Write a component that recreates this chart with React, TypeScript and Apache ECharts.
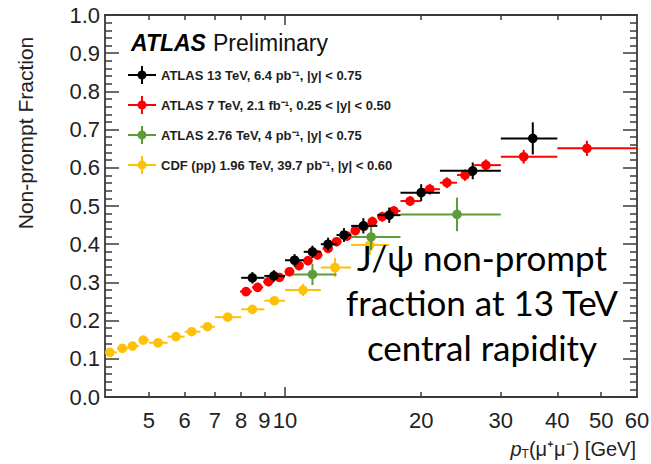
import React, { useEffect, useRef } from "react";
import * as echarts from "echarts";

// ---- Data ----
// CDF (pp̄) 1.96 TeV
const cdfPt = [4.1, 4.37, 4.6, 4.86, 5.24, 5.74, 6.22, 6.74, 7.47, 8.47, 9.47, 10.96, 12.9, 15.4];
const cdfLo = [4.0, 4.25, 4.5, 4.75, 5.0, 5.5, 6.0, 6.5, 7.0, 8.0, 9.0, 10, 12, 14];
const cdfHi = [4.25, 4.5, 4.75, 5.0, 5.5, 6.0, 6.5, 7.0, 8.0, 9.0, 10, 12, 14, 17];
const cdfVal = [0.117, 0.1275, 0.1335, 0.149, 0.142, 0.158, 0.171, 0.184, 0.209, 0.2295, 0.252, 0.28, 0.339, 0.398];
const cdfErr = [0.005, 0.005, 0.005, 0.006, 0.006, 0.006, 0.006, 0.007, 0.007, 0.008, 0.01, 0.016, 0.025, 0.026];

// ATLAS 2.76 TeV
const a276Pt = [11.5, 15.5, 24];
const a276Lo = [10, 14, 18];
const a276Hi = [13, 18, 30];
const a276Val = [0.321, 0.419, 0.478];
const a276Err = [0.028, 0.035, 0.044];

// ATLAS 7 TeV
const a7Pt = [8.2, 8.7, 9.19, 9.72, 10.23, 10.74, 11.24, 11.8, 12.45, 13.0, 13.7, 14.3, 14.95, 15.6, 16.4, 17.4, 18.9, 20.9, 22.8, 25.0, 27.8, 33.7, 46.5];
const a7Edges = [7.95, 8.45, 8.95, 9.45, 9.98, 10.48, 10.98, 11.5, 12.1, 12.75, 13.35, 14.0, 14.6, 15.3, 16.0, 16.9, 18.0, 20.0, 22.0, 24.0, 26.2, 30, 40, 60];
const a7Val = [0.276, 0.287, 0.302, 0.313, 0.328, 0.344, 0.357, 0.372, 0.389, 0.4066, 0.4215, 0.4354, 0.447, 0.459, 0.472, 0.487, 0.513, 0.544, 0.561, 0.581, 0.607, 0.629, 0.651];
const a7Err = [0.012, 0.012, 0.012, 0.012, 0.012, 0.012, 0.012, 0.012, 0.012, 0.012, 0.012, 0.012, 0.012, 0.013, 0.013, 0.013, 0.013, 0.014, 0.014, 0.015, 0.015, 0.018, 0.02];

// ATLAS 13 TeV
const a13Pt = [8.47, 9.45, 10.5, 11.5, 12.45, 13.5, 14.9, 17.0, 20.0, 26.0, 35.3];
const a13Lo = [8, 9, 10, 11, 12, 13, 14, 16, 18, 22, 30];
const a13Hi = [9, 10, 11, 12, 13, 14, 16, 18, 22, 30, 40];
const a13Val = [0.312, 0.317, 0.358, 0.38, 0.4, 0.424, 0.448, 0.476, 0.535, 0.592, 0.677];
const a13Err = [0.015, 0.015, 0.016, 0.016, 0.017, 0.018, 0.02, 0.02, 0.022, 0.022, 0.042];

// Axis ticks / labels
const xLabelValues = [5, 6, 7, 8, 9, 10, 20, 30, 40, 50, 60];
const xMinorTicks = [5, 6, 7, 8, 9, 20, 30, 40, 50];
const xMajorTicks = [10];
const X_MIN = 4;
const X_MAX = 60;

const names = {
  a13: "ATLAS 13 TeV, 6.4 pb\u207B\u00B9, |y| < 0.75",
  a7: "ATLAS 7 TeV, 2.1 fb\u207B\u00B9, 0.25 < |y| < 0.50",
  a276: "ATLAS 2.76 TeV, 4 pb\u207B\u00B9, |y| < 0.75",
  cdf: "CDF (pp) 1.96 TeV, 39.7 pb\u207B\u00B9, |y| < 0.60",
};

const colors = {
  a13: "#000000",
  a7: "#ff0000",
  a276: "#5e9c3a",
  cdf: "#ffc107",
};

const FONT = "'Liberation Sans', Arial, Helvetica, sans-serif";
const ICON =
  "path://M0,8 L28,8 L28,10 L0,10 Z M13,0 L15,0 L15,18 L13,18 Z M14,4.5 A4.5,4.5 0 1,1 14,13.5 A4.5,4.5 0 1,1 14,4.5 Z";

function rows(pt: number[], val: number[], lo: number[], hi: number[], err: number[]) {
  return pt.map((p, i) => [p, val[i], lo[i], hi[i], err[i]]);
}

function makeRender(color: string) {
  return (_params: any, api: any) => {
    const x = api.value(0);
    const y = api.value(1);
    const lo = api.value(2);
    const hi = api.value(3);
    const e = api.value(4);
    const p = api.coord([x, y]);
    const l = api.coord([lo, y]);
    const r = api.coord([hi, y]);
    const t = api.coord([x, y + e]);
    const b = api.coord([x, y - e]);
    return {
      type: "group",
      children: [
        { type: "line", shape: { x1: l[0], y1: l[1], x2: r[0], y2: r[1] }, style: { stroke: color, lineWidth: 2 } },
        { type: "line", shape: { x1: t[0], y1: t[1], x2: b[0], y2: b[1] }, style: { stroke: color, lineWidth: 2 } },
        { type: "circle", shape: { cx: p[0], cy: p[1], r: 4.8 }, style: { fill: color } },
      ],
    };
  };
}

export default function App() {
  const ref = useRef<HTMLDivElement>(null);

  useEffect(() => {
    if (!ref.current) return;
    const chart = echarts.init(ref.current, null, { renderer: "svg" });
    const L = Math.log10;
    const a7Lo = a7Edges.slice(0, a7Edges.length - 1);
    const a7Hi = a7Edges.slice(1);

    const axisColor = "#3a3a3a";
    const helperX = (position: "top" | "bottom", ticks: number[], len: number, showLine: boolean, labels: boolean) => ({
      type: "value",
      position,
      gridIndex: 0,
      min: L(X_MIN),
      max: L(X_MAX),
      axisLine: { show: showLine, lineStyle: { color: axisColor, width: 1.8 } },
      axisTick: {
        show: true,
        inside: true,
        length: len,
        customValues: ticks.map((v) => L(v)),
        lineStyle: { color: axisColor, width: 1.5 },
      },
      axisLabel: labels
        ? {
            show: true,
            customValues: xLabelValues.map((v) => L(v)),
            formatter: (v: number) => String(Math.round(Math.pow(10, v))),
            fontSize: 22,
            fontFamily: FONT,
            color: "#222",
            margin: 12,
          }
        : { show: false },
      splitLine: { show: false },
    });

    const yAx = (position: "left" | "right", labels: boolean) => ({
      type: "value",
      position,
      min: 0,
      max: 1,
      interval: 0.1,
      axisLine: { show: true, lineStyle: { color: axisColor, width: 1.8 } },
      axisTick: { show: true, inside: true, length: 14, lineStyle: { color: axisColor, width: 1.5 } },
      minorTick: { show: true, splitNumber: 5, length: 7, lineStyle: { color: axisColor, width: 1.5 } },
      axisLabel: labels
        ? {
            show: true,
            formatter: (v: number) => v.toFixed(1),
            fontSize: 22,
            fontFamily: FONT,
            color: "#222",
            margin: 5,
          }
        : { show: false },
      splitLine: { show: false },
      minorSplitLine: { show: false },
    });

    const mk = (key: keyof typeof names, data: number[][], z: number) => ({
      type: "custom",
      name: names[key],
      xAxisIndex: 0,
      yAxisIndex: 0,
      renderItem: makeRender(colors[key]),
      itemStyle: { color: colors[key] },
      encode: { x: [0, 2, 3], y: 1 },
      data,
      z,
      clip: true,
    });

    const option: any = {
      animation: false,
      backgroundColor: "#ffffff",
      grid: { left: 105, right: 14, top: 15, bottom: 67, containLabel: false, outerBoundsMode: "none" },
      xAxis: [
        {
          type: "log",
          logBase: 10,
          min: X_MIN,
          max: X_MAX,
          position: "bottom",
          axisLine: { show: true, lineStyle: { color: axisColor, width: 1.8 } },
          axisTick: { show: false },
          minorTick: { show: false },
          axisLabel: { show: false },
          splitLine: { show: false },
        },
        helperX("bottom", xMinorTicks, 5, false, true),
        helperX("bottom", xMajorTicks, 10, false, false),
        helperX("top", xMinorTicks, 5, true, false),
        helperX("top", xMajorTicks, 10, false, false),
      ],
      yAxis: [yAx("left", true), yAx("right", false)],
      legend: {
        orient: "vertical",
        left: 128,
        top: 66,
        padding: 0,
        itemWidth: 28,
        itemHeight: 18,
        itemGap: 12,
        selectedMode: false,
        data: [
          { name: names.a13, icon: ICON },
          { name: names.a7, icon: ICON },
          { name: names.a276, icon: ICON },
          { name: names.cdf, icon: ICON },
        ],
        textStyle: { fontFamily: FONT, fontWeight: "bold", fontSize: 13, color: "#1e1e1e" },
      },
      series: [
        mk("cdf", rows(cdfPt, cdfVal, cdfLo, cdfHi, cdfErr), 2),
        mk("a276", rows(a276Pt, a276Val, a276Lo, a276Hi, a276Err), 3),
        mk("a7", rows(a7Pt, a7Val, a7Lo, a7Hi, a7Err), 4),
        mk("a13", rows(a13Pt, a13Val, a13Lo, a13Hi, a13Err), 5),
      ],
      graphic: [
        {
          type: "text",
          x: 131,
          y: 43,
          style: {
            text: "ATLAS",
            fontFamily: FONT,
            fontSize: 23,
            fontWeight: "bold",
            fontStyle: "italic",
            fill: "#000",
            align: "left",
            textAlign: "left",
            verticalAlign: "middle",
            textVerticalAlign: "middle",
          },
        },
        {
          type: "text",
          x: 213,
          y: 43,
          style: {
            text: "Preliminary",
            fontFamily: FONT,
            fontSize: 23,
            fill: "#111",
            align: "left",
            textAlign: "left",
            verticalAlign: "middle",
            textVerticalAlign: "middle",
          },
        },
        {
          type: "text",
          x: 25,
          y: 133,
          rotation: Math.PI / 2,
          style: {
            text: "Non-prompt Fraction",
            fontFamily: FONT,
            fontSize: 21,
            fill: "#222",
            align: "center",
            textAlign: "center",
            verticalAlign: "middle",
            textVerticalAlign: "middle",
          },
        },
        {
          type: "text",
          x: 636,
          y: 449,
          style: {
            text: "{p|p}{s|T}{n|(\u03BC\u207A\u03BC\u207B) [GeV]}",
            fontFamily: FONT,
            fontSize: 19,
            fill: "#222",
            align: "right",
            textAlign: "right",
            verticalAlign: "middle",
            textVerticalAlign: "middle",
            rich: {
              p: { fontFamily: FONT, fontSize: 20, fontStyle: "italic", lineHeight: 22, fill: "#222" },
              s: { fontFamily: FONT, fontSize: 12, lineHeight: 11, verticalAlign: "bottom", fill: "#222" },
              n: { fontFamily: FONT, fontSize: 20, lineHeight: 22, fill: "#222" },
            },
          },
        },
        {
          type: "text",
          x: 482,
          y: 302,
          z: 100,
          style: {
            text: "J/\u03C8 non-prompt\nfraction at 13 TeV\ncentral rapidity",
            fontFamily: "Lato, 'Open Sans', sans-serif",
            fontSize: 35,
            lineHeight: 45,
            fill: "#000",
            align: "center",
            textAlign: "center",
            verticalAlign: "middle",
            textVerticalAlign: "middle",
          },
        },
      ],
    };

    chart.setOption(option);
    return () => chart.dispose();
  }, []);

  return (
    <div
      ref={ref}
      style={{ position: "absolute", left: 0, top: 0, width: 651, height: 464 }}
    />
  );
}
